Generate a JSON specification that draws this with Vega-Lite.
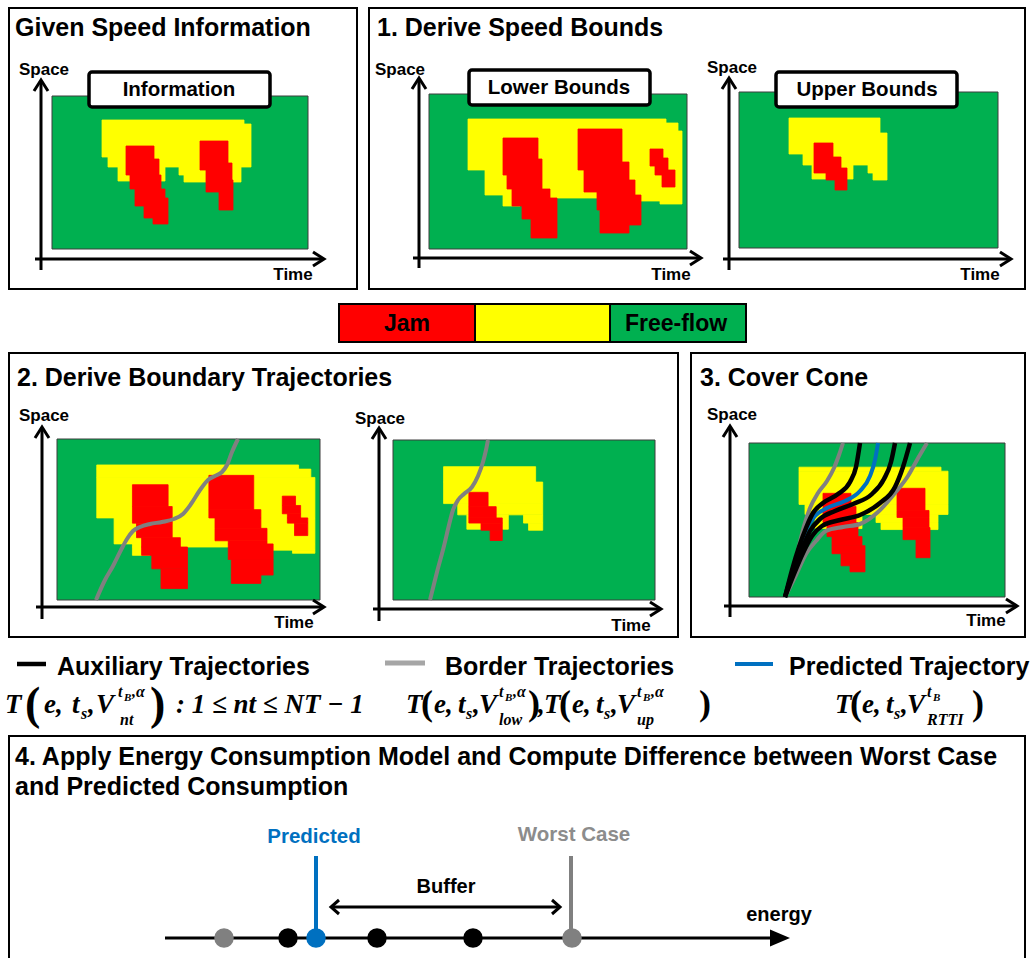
{
  "$schema": "https://vega.github.io/schema/vega-lite/v6.json",
  "width": 1034,
  "height": 958,
  "padding": 0,
  "autosize": {"type": "none"},
  "background": "white",
  "config": {"view": {"stroke": null}},
  "datasets": {
    "frames": [
      {"x": 9, "x2": 357, "y": 8, "y2": 289},
      {"x": 369, "x2": 1025, "y": 8, "y2": 289},
      {"x": 9, "x2": 678, "y": 353, "y2": 637},
      {"x": 691, "x2": 1025, "y": 353, "y2": 637},
      {"x": 9, "x2": 1025, "y": 736, "y2": 962}
    ],
    "info": [
      {"x0": 52, "x1": 308, "y0": 96, "y1": 249, "state": "free"},
      {"x0": 102, "x1": 244, "y0": 120, "y1": 124, "state": "slow"},
      {"x0": 102, "x1": 251, "y0": 124, "y1": 157, "state": "slow"},
      {"x0": 108, "x1": 251, "y0": 157, "y1": 167, "state": "slow"},
      {"x0": 118, "x1": 165, "y0": 167, "y1": 181, "state": "slow"},
      {"x0": 179, "x1": 241, "y0": 167, "y1": 175, "state": "slow"},
      {"x0": 184, "x1": 241, "y0": 175, "y1": 182, "state": "slow"},
      {"x0": 126, "x1": 154, "y0": 146, "y1": 159, "state": "jam"},
      {"x0": 126, "x1": 159, "y0": 159, "y1": 175, "state": "jam"},
      {"x0": 130, "x1": 161, "y0": 175, "y1": 189, "state": "jam"},
      {"x0": 135, "x1": 165, "y0": 189, "y1": 198, "state": "jam"},
      {"x0": 135, "x1": 168, "y0": 198, "y1": 206, "state": "jam"},
      {"x0": 144, "x1": 168, "y0": 206, "y1": 218, "state": "jam"},
      {"x0": 153, "x1": 168, "y0": 218, "y1": 224, "state": "jam"},
      {"x0": 200, "x1": 228, "y0": 141, "y1": 163, "state": "jam"},
      {"x0": 200, "x1": 232, "y0": 163, "y1": 170, "state": "jam"},
      {"x0": 206, "x1": 232, "y0": 170, "y1": 180, "state": "jam"},
      {"x0": 206, "x1": 233, "y0": 180, "y1": 192, "state": "jam"},
      {"x0": 219, "x1": 233, "y0": 192, "y1": 210, "state": "jam"}
    ],
    "lower": [
      {"x0": 429, "x1": 687, "y0": 94, "y1": 249, "state": "free"},
      {"x0": 468, "x1": 666, "y0": 119, "y1": 123, "state": "slow"},
      {"x0": 468, "x1": 678, "y0": 123, "y1": 131, "state": "slow"},
      {"x0": 468, "x1": 682, "y0": 131, "y1": 170, "state": "slow"},
      {"x0": 485, "x1": 682, "y0": 170, "y1": 195, "state": "slow"},
      {"x0": 503, "x1": 597, "y0": 195, "y1": 198, "state": "slow"},
      {"x0": 503, "x1": 520, "y0": 198, "y1": 206, "state": "slow"},
      {"x0": 641, "x1": 682, "y0": 195, "y1": 201, "state": "slow"},
      {"x0": 660, "x1": 682, "y0": 201, "y1": 204, "state": "slow"},
      {"x0": 503, "x1": 538, "y0": 138, "y1": 159, "state": "jam"},
      {"x0": 503, "x1": 542, "y0": 159, "y1": 175, "state": "jam"},
      {"x0": 507, "x1": 542, "y0": 175, "y1": 189, "state": "jam"},
      {"x0": 512, "x1": 550, "y0": 189, "y1": 198, "state": "jam"},
      {"x0": 512, "x1": 557, "y0": 198, "y1": 206, "state": "jam"},
      {"x0": 522, "x1": 557, "y0": 206, "y1": 219, "state": "jam"},
      {"x0": 531, "x1": 557, "y0": 219, "y1": 238, "state": "jam"},
      {"x0": 578, "x1": 622, "y0": 129, "y1": 162, "state": "jam"},
      {"x0": 578, "x1": 629, "y0": 162, "y1": 170, "state": "jam"},
      {"x0": 584, "x1": 629, "y0": 170, "y1": 180, "state": "jam"},
      {"x0": 584, "x1": 635, "y0": 180, "y1": 192, "state": "jam"},
      {"x0": 597, "x1": 635, "y0": 192, "y1": 195, "state": "jam"},
      {"x0": 597, "x1": 641, "y0": 195, "y1": 210, "state": "jam"},
      {"x0": 600, "x1": 641, "y0": 210, "y1": 225, "state": "jam"},
      {"x0": 600, "x1": 629, "y0": 225, "y1": 233, "state": "jam"},
      {"x0": 650, "x1": 663, "y0": 149, "y1": 158, "state": "jam"},
      {"x0": 650, "x1": 668, "y0": 158, "y1": 166, "state": "jam"},
      {"x0": 655, "x1": 668, "y0": 166, "y1": 170, "state": "jam"},
      {"x0": 655, "x1": 675, "y0": 170, "y1": 175, "state": "jam"},
      {"x0": 662, "x1": 675, "y0": 175, "y1": 187, "state": "jam"}
    ],
    "upper": [
      {"x0": 739, "x1": 998, "y0": 92, "y1": 248, "state": "free"},
      {"x0": 789, "x1": 880, "y0": 118, "y1": 133, "state": "slow"},
      {"x0": 789, "x1": 887, "y0": 133, "y1": 154, "state": "slow"},
      {"x0": 803, "x1": 887, "y0": 154, "y1": 165, "state": "slow"},
      {"x0": 812, "x1": 853, "y0": 165, "y1": 179, "state": "slow"},
      {"x0": 868, "x1": 887, "y0": 165, "y1": 173, "state": "slow"},
      {"x0": 873, "x1": 887, "y0": 173, "y1": 180, "state": "slow"},
      {"x0": 814, "x1": 833, "y0": 143, "y1": 157, "state": "jam"},
      {"x0": 814, "x1": 841, "y0": 157, "y1": 168, "state": "jam"},
      {"x0": 814, "x1": 847, "y0": 168, "y1": 173, "state": "jam"},
      {"x0": 826, "x1": 847, "y0": 173, "y1": 180, "state": "jam"},
      {"x0": 835, "x1": 847, "y0": 180, "y1": 190, "state": "jam"}
    ],
    "bar": [
      {"x": 339, "x2": 475, "y": 304, "y2": 342, "state": "jam"},
      {"x": 475, "x2": 610, "y": 304, "y2": 342, "state": "slow"},
      {"x": 610, "x2": 746, "y": 304, "y2": 342, "state": "free"}
    ],
    "tags": [
      {"x": 89, "x2": 270, "y": 72, "y2": 107},
      {"x": 469, "x2": 650, "y": 70, "y2": 105},
      {"x": 776, "x2": 957, "y": 72, "y2": 107}
    ],
    "paths": [
      {"id": "A-v", "i": 0, "x": 41, "y": 270, "kind": "axis"}, {"id": "A-v", "i": 1, "x": 41, "y": 81, "kind": "axis"},
      {"id": "A-vh", "i": 0, "x": 34, "y": 91, "kind": "axis"}, {"id": "A-vh", "i": 1, "x": 41, "y": 80, "kind": "axis"}, {"id": "A-vh", "i": 2, "x": 48, "y": 91, "kind": "axis"},
      {"id": "A-h", "i": 0, "x": 35, "y": 259, "kind": "axis"}, {"id": "A-h", "i": 1, "x": 323, "y": 259, "kind": "axis"},
      {"id": "A-hh", "i": 0, "x": 313, "y": 252, "kind": "axis"}, {"id": "A-hh", "i": 1, "x": 324, "y": 259, "kind": "axis"}, {"id": "A-hh", "i": 2, "x": 313, "y": 266, "kind": "axis"},
      {"id": "B-v", "i": 0, "x": 419, "y": 268, "kind": "axis"}, {"id": "B-v", "i": 1, "x": 419, "y": 79, "kind": "axis"},
      {"id": "B-vh", "i": 0, "x": 412, "y": 89, "kind": "axis"}, {"id": "B-vh", "i": 1, "x": 419, "y": 78, "kind": "axis"}, {"id": "B-vh", "i": 2, "x": 426, "y": 89, "kind": "axis"},
      {"id": "B-h", "i": 0, "x": 413, "y": 258, "kind": "axis"}, {"id": "B-h", "i": 1, "x": 700, "y": 258, "kind": "axis"},
      {"id": "B-hh", "i": 0, "x": 690, "y": 251, "kind": "axis"}, {"id": "B-hh", "i": 1, "x": 701, "y": 258, "kind": "axis"}, {"id": "B-hh", "i": 2, "x": 690, "y": 265, "kind": "axis"},
      {"id": "U-v", "i": 0, "x": 729, "y": 270, "kind": "axis"}, {"id": "U-v", "i": 1, "x": 729, "y": 79, "kind": "axis"},
      {"id": "U-vh", "i": 0, "x": 722, "y": 89, "kind": "axis"}, {"id": "U-vh", "i": 1, "x": 729, "y": 78, "kind": "axis"}, {"id": "U-vh", "i": 2, "x": 736, "y": 89, "kind": "axis"},
      {"id": "U-h", "i": 0, "x": 723, "y": 259, "kind": "axis"}, {"id": "U-h", "i": 1, "x": 1010, "y": 259, "kind": "axis"},
      {"id": "U-hh", "i": 0, "x": 1000, "y": 252, "kind": "axis"}, {"id": "U-hh", "i": 1, "x": 1011, "y": 259, "kind": "axis"}, {"id": "U-hh", "i": 2, "x": 1000, "y": 266, "kind": "axis"},
      {"id": "CL-v", "i": 0, "x": 42, "y": 619, "kind": "axis"}, {"id": "CL-v", "i": 1, "x": 42, "y": 428, "kind": "axis"},
      {"id": "CL-vh", "i": 0, "x": 35, "y": 438, "kind": "axis"}, {"id": "CL-vh", "i": 1, "x": 42, "y": 427, "kind": "axis"}, {"id": "CL-vh", "i": 2, "x": 49, "y": 438, "kind": "axis"},
      {"id": "CL-h", "i": 0, "x": 36, "y": 607, "kind": "axis"}, {"id": "CL-h", "i": 1, "x": 323, "y": 607, "kind": "axis"},
      {"id": "CL-hh", "i": 0, "x": 313, "y": 600, "kind": "axis"}, {"id": "CL-hh", "i": 1, "x": 324, "y": 607, "kind": "axis"}, {"id": "CL-hh", "i": 2, "x": 313, "y": 614, "kind": "axis"},
      {"id": "CR-v", "i": 0, "x": 379, "y": 621, "kind": "axis"}, {"id": "CR-v", "i": 1, "x": 379, "y": 429, "kind": "axis"},
      {"id": "CR-vh", "i": 0, "x": 372, "y": 439, "kind": "axis"}, {"id": "CR-vh", "i": 1, "x": 379, "y": 428, "kind": "axis"}, {"id": "CR-vh", "i": 2, "x": 386, "y": 439, "kind": "axis"},
      {"id": "CR-h", "i": 0, "x": 373, "y": 609, "kind": "axis"}, {"id": "CR-h", "i": 1, "x": 660, "y": 609, "kind": "axis"},
      {"id": "CR-hh", "i": 0, "x": 650, "y": 602, "kind": "axis"}, {"id": "CR-hh", "i": 1, "x": 661, "y": 609, "kind": "axis"}, {"id": "CR-hh", "i": 2, "x": 650, "y": 616, "kind": "axis"},
      {"id": "D-v", "i": 0, "x": 730, "y": 617, "kind": "axis"}, {"id": "D-v", "i": 1, "x": 730, "y": 427, "kind": "axis"},
      {"id": "D-vh", "i": 0, "x": 723, "y": 437, "kind": "axis"}, {"id": "D-vh", "i": 1, "x": 730, "y": 426, "kind": "axis"}, {"id": "D-vh", "i": 2, "x": 737, "y": 437, "kind": "axis"},
      {"id": "D-h", "i": 0, "x": 724, "y": 606, "kind": "axis"}, {"id": "D-h", "i": 1, "x": 1016, "y": 606, "kind": "axis"},
      {"id": "D-hh", "i": 0, "x": 1006, "y": 599, "kind": "axis"}, {"id": "D-hh", "i": 1, "x": 1017, "y": 606, "kind": "axis"}, {"id": "D-hh", "i": 2, "x": 1006, "y": 613, "kind": "axis"},
      {"id": "E-axis", "i": 0, "x": 165, "y": 938, "kind": "axis"}, {"id": "E-axis", "i": 1, "x": 772, "y": 938, "kind": "axis"},
      {"id": "E-buf", "i": 0, "x": 332, "y": 907, "kind": "axis"}, {"id": "E-buf", "i": 1, "x": 559, "y": 907, "kind": "axis"},
      {"id": "E-bufl", "i": 0, "x": 339, "y": 900, "kind": "axis"}, {"id": "E-bufl", "i": 1, "x": 331, "y": 907, "kind": "axis"}, {"id": "E-bufl", "i": 2, "x": 339, "y": 914, "kind": "axis"},
      {"id": "E-bufr", "i": 0, "x": 552, "y": 900, "kind": "axis"}, {"id": "E-bufr", "i": 1, "x": 560, "y": 907, "kind": "axis"}, {"id": "E-bufr", "i": 2, "x": 552, "y": 914, "kind": "axis"},
      {"id": "E-pred", "i": 0, "x": 316, "y": 856, "kind": "blue"}, {"id": "E-pred", "i": 1, "x": 316, "y": 934, "kind": "blue"},
      {"id": "E-worst", "i": 0, "x": 571, "y": 856, "kind": "gray"}, {"id": "E-worst", "i": 1, "x": 571, "y": 934, "kind": "gray"},
      {"id": "K-aux", "i": 0, "x": 17, "y": 664, "kind": "black"}, {"id": "K-aux", "i": 1, "x": 46, "y": 664, "kind": "black"},
      {"id": "K-border", "i": 0, "x": 385, "y": 663, "kind": "keygray"}, {"id": "K-border", "i": 1, "x": 425, "y": 663, "kind": "keygray"},
      {"id": "K-pred", "i": 0, "x": 735, "y": 664, "kind": "blue"}, {"id": "K-pred", "i": 1, "x": 773, "y": 664, "kind": "blue"},
      {"id": "CL-t", "i": 0, "x": 96, "y": 600, "kind": "gray"}, {"id": "CL-t", "i": 1, "x": 105, "y": 580, "kind": "gray"}, {"id": "CL-t", "i": 2, "x": 113, "y": 566, "kind": "gray"}, {"id": "CL-t", "i": 3, "x": 121, "y": 550, "kind": "gray"}, {"id": "CL-t", "i": 4, "x": 127, "y": 539, "kind": "gray"}, {"id": "CL-t", "i": 5, "x": 133, "y": 531, "kind": "gray"}, {"id": "CL-t", "i": 6, "x": 140, "y": 527, "kind": "gray"}, {"id": "CL-t", "i": 7, "x": 150, "y": 524, "kind": "gray"}, {"id": "CL-t", "i": 8, "x": 162, "y": 522, "kind": "gray"}, {"id": "CL-t", "i": 9, "x": 174, "y": 519, "kind": "gray"}, {"id": "CL-t", "i": 10, "x": 183, "y": 514, "kind": "gray"}, {"id": "CL-t", "i": 11, "x": 191, "y": 504, "kind": "gray"}, {"id": "CL-t", "i": 12, "x": 200, "y": 490, "kind": "gray"}, {"id": "CL-t", "i": 13, "x": 208, "y": 480, "kind": "gray"}, {"id": "CL-t", "i": 14, "x": 215, "y": 476, "kind": "gray"}, {"id": "CL-t", "i": 15, "x": 222, "y": 472, "kind": "gray"}, {"id": "CL-t", "i": 16, "x": 227, "y": 465, "kind": "gray"}, {"id": "CL-t", "i": 17, "x": 232, "y": 452, "kind": "gray"}, {"id": "CL-t", "i": 18, "x": 238, "y": 439, "kind": "gray"},
      {"id": "CR-t", "i": 0, "x": 430, "y": 600, "kind": "gray"}, {"id": "CR-t", "i": 1, "x": 437, "y": 572, "kind": "gray"}, {"id": "CR-t", "i": 2, "x": 444, "y": 546, "kind": "gray"}, {"id": "CR-t", "i": 3, "x": 449, "y": 525, "kind": "gray"}, {"id": "CR-t", "i": 4, "x": 453, "y": 510, "kind": "gray"}, {"id": "CR-t", "i": 5, "x": 458, "y": 500, "kind": "gray"}, {"id": "CR-t", "i": 6, "x": 464, "y": 494, "kind": "gray"}, {"id": "CR-t", "i": 7, "x": 472, "y": 487, "kind": "gray"}, {"id": "CR-t", "i": 8, "x": 478, "y": 476, "kind": "gray"}, {"id": "CR-t", "i": 9, "x": 483, "y": 462, "kind": "gray"}, {"id": "CR-t", "i": 10, "x": 486, "y": 450, "kind": "gray"}, {"id": "CR-t", "i": 11, "x": 488, "y": 440, "kind": "gray"},
      {"id": "D-g1", "i": 0, "x": 785, "y": 597, "kind": "gray"}, {"id": "D-g1", "i": 1, "x": 792, "y": 572, "kind": "gray"}, {"id": "D-g1", "i": 2, "x": 798, "y": 550, "kind": "gray"}, {"id": "D-g1", "i": 3, "x": 804, "y": 526, "kind": "gray"}, {"id": "D-g1", "i": 4, "x": 810, "y": 508, "kind": "gray"}, {"id": "D-g1", "i": 5, "x": 818, "y": 493, "kind": "gray"}, {"id": "D-g1", "i": 6, "x": 827, "y": 481, "kind": "gray"}, {"id": "D-g1", "i": 7, "x": 834, "y": 468, "kind": "gray"}, {"id": "D-g1", "i": 8, "x": 839, "y": 455, "kind": "gray"}, {"id": "D-g1", "i": 9, "x": 843, "y": 443, "kind": "gray"},
      {"id": "D-g2", "i": 0, "x": 785, "y": 597, "kind": "gray"}, {"id": "D-g2", "i": 1, "x": 796, "y": 575, "kind": "gray"}, {"id": "D-g2", "i": 2, "x": 806, "y": 554, "kind": "gray"}, {"id": "D-g2", "i": 3, "x": 816, "y": 541, "kind": "gray"}, {"id": "D-g2", "i": 4, "x": 826, "y": 531, "kind": "gray"}, {"id": "D-g2", "i": 5, "x": 843, "y": 527, "kind": "gray"}, {"id": "D-g2", "i": 6, "x": 860, "y": 524, "kind": "gray"}, {"id": "D-g2", "i": 7, "x": 878, "y": 512, "kind": "gray"}, {"id": "D-g2", "i": 8, "x": 895, "y": 493, "kind": "gray"}, {"id": "D-g2", "i": 9, "x": 908, "y": 476, "kind": "gray"}, {"id": "D-g2", "i": 10, "x": 917, "y": 460, "kind": "gray"}, {"id": "D-g2", "i": 11, "x": 927, "y": 443, "kind": "gray"},
      {"id": "D-b", "i": 0, "x": 785, "y": 597, "kind": "blue"}, {"id": "D-b", "i": 1, "x": 793, "y": 568, "kind": "blue"}, {"id": "D-b", "i": 2, "x": 800, "y": 546, "kind": "blue"}, {"id": "D-b", "i": 3, "x": 807, "y": 528, "kind": "blue"}, {"id": "D-b", "i": 4, "x": 815, "y": 516, "kind": "blue"}, {"id": "D-b", "i": 5, "x": 827, "y": 508, "kind": "blue"}, {"id": "D-b", "i": 6, "x": 845, "y": 501, "kind": "blue"}, {"id": "D-b", "i": 7, "x": 860, "y": 491, "kind": "blue"}, {"id": "D-b", "i": 8, "x": 870, "y": 476, "kind": "blue"}, {"id": "D-b", "i": 9, "x": 875, "y": 460, "kind": "blue"}, {"id": "D-b", "i": 10, "x": 878, "y": 443, "kind": "blue"},
      {"id": "D-k1", "i": 0, "x": 785, "y": 597, "kind": "black"}, {"id": "D-k1", "i": 1, "x": 792, "y": 570, "kind": "black"}, {"id": "D-k1", "i": 2, "x": 799, "y": 547, "kind": "black"}, {"id": "D-k1", "i": 3, "x": 806, "y": 528, "kind": "black"}, {"id": "D-k1", "i": 4, "x": 813, "y": 513, "kind": "black"}, {"id": "D-k1", "i": 5, "x": 823, "y": 503, "kind": "black"}, {"id": "D-k1", "i": 6, "x": 838, "y": 494, "kind": "black"}, {"id": "D-k1", "i": 7, "x": 850, "y": 482, "kind": "black"}, {"id": "D-k1", "i": 8, "x": 856, "y": 467, "kind": "black"}, {"id": "D-k1", "i": 9, "x": 860, "y": 443, "kind": "black"},
      {"id": "D-k2", "i": 0, "x": 785, "y": 597, "kind": "black"}, {"id": "D-k2", "i": 1, "x": 793, "y": 571, "kind": "black"}, {"id": "D-k2", "i": 2, "x": 802, "y": 549, "kind": "black"}, {"id": "D-k2", "i": 3, "x": 810, "y": 531, "kind": "black"}, {"id": "D-k2", "i": 4, "x": 820, "y": 519, "kind": "black"}, {"id": "D-k2", "i": 5, "x": 835, "y": 511, "kind": "black"}, {"id": "D-k2", "i": 6, "x": 853, "y": 504, "kind": "black"}, {"id": "D-k2", "i": 7, "x": 872, "y": 494, "kind": "black"}, {"id": "D-k2", "i": 8, "x": 884, "y": 479, "kind": "black"}, {"id": "D-k2", "i": 9, "x": 891, "y": 462, "kind": "black"}, {"id": "D-k2", "i": 10, "x": 895, "y": 443, "kind": "black"},
      {"id": "D-k3", "i": 0, "x": 785, "y": 597, "kind": "black"}, {"id": "D-k3", "i": 1, "x": 794, "y": 574, "kind": "black"}, {"id": "D-k3", "i": 2, "x": 803, "y": 553, "kind": "black"}, {"id": "D-k3", "i": 3, "x": 812, "y": 536, "kind": "black"}, {"id": "D-k3", "i": 4, "x": 822, "y": 526, "kind": "black"}, {"id": "D-k3", "i": 5, "x": 840, "y": 520, "kind": "black"}, {"id": "D-k3", "i": 6, "x": 860, "y": 515, "kind": "black"}, {"id": "D-k3", "i": 7, "x": 880, "y": 503, "kind": "black"}, {"id": "D-k3", "i": 8, "x": 895, "y": 487, "kind": "black"}, {"id": "D-k3", "i": 9, "x": 903, "y": 467, "kind": "black"}, {"id": "D-k3", "i": 10, "x": 910, "y": 443, "kind": "black"}
    ],
    "dots": [
      {"x": 224, "y": 938, "kind": "border"},
      {"x": 288, "y": 938, "kind": "auxiliary"},
      {"x": 377, "y": 938, "kind": "auxiliary"},
      {"x": 473, "y": 938, "kind": "auxiliary"},
      {"x": 572, "y": 938, "kind": "border"},
      {"x": 316, "y": 938, "kind": "predicted"}
    ],
    "heads": [{"x": 780, "y": 938}],
    "labels": [
      {"x": 15, "y": 36, "text": "Given Speed Information", "role": "title"},
      {"x": 377, "y": 36, "text": "1. Derive Speed Bounds", "role": "title"},
      {"x": 17, "y": 386, "text": "2. Derive Boundary Trajectories", "role": "title"},
      {"x": 700, "y": 386, "text": "3. Cover Cone", "role": "title"},
      {"x": 15, "y": 765, "text": "4. Apply Energy Consumption Model and Compute Difference between Worst Case", "role": "title"},
      {"x": 15, "y": 795, "text": "and Predicted Consumption", "role": "title"},
      {"x": 57, "y": 675, "text": "Auxiliary Trajectories", "role": "title"},
      {"x": 445, "y": 675, "text": "Border Trajectories", "role": "title"},
      {"x": 789, "y": 675, "text": "Predicted Trajectory", "role": "title"},
      {"x": 44, "y": 70, "text": "Space", "role": "axis"},
      {"x": 400, "y": 70, "text": "Space", "role": "axis"},
      {"x": 732, "y": 68, "text": "Space", "role": "axis"},
      {"x": 44, "y": 416, "text": "Space", "role": "axis"},
      {"x": 380, "y": 419, "text": "Space", "role": "axis"},
      {"x": 732, "y": 415, "text": "Space", "role": "axis"},
      {"x": 293, "y": 275, "text": "Time", "role": "axis"},
      {"x": 671, "y": 275, "text": "Time", "role": "axis"},
      {"x": 980, "y": 275, "text": "Time", "role": "axis"},
      {"x": 294, "y": 623, "text": "Time", "role": "axis"},
      {"x": 631, "y": 626, "text": "Time", "role": "axis"},
      {"x": 986, "y": 621, "text": "Time", "role": "axis"},
      {"x": 179, "y": 90, "text": "Information", "role": "tag"},
      {"x": 559, "y": 88, "text": "Lower Bounds", "role": "tag"},
      {"x": 867, "y": 90, "text": "Upper Bounds", "role": "tag"},
      {"x": 407, "y": 324, "text": "Jam", "role": "bar"},
      {"x": 676, "y": 324, "text": "Free-flow", "role": "bar"},
      {"x": 446, "y": 887, "text": "Buffer", "role": "note"},
      {"x": 779, "y": 915, "text": "energy", "role": "note"},
      {"x": 314, "y": 837, "text": "Predicted", "role": "pred"},
      {"x": 574, "y": 835, "text": "Worst Case", "role": "worst"}
    ],
    "math": [
      {"x": 5, "y": 713, "text": "T", "role": "m"},
      {"x": 25, "y": 719, "text": "(", "role": "big"},
      {"x": 44, "y": 713, "text": "e,", "role": "m"},
      {"x": 72, "y": 713, "text": "t", "role": "m"},
      {"x": 81, "y": 719, "text": "s", "role": "sup"},
      {"x": 88, "y": 713, "text": ",", "role": "m"},
      {"x": 96, "y": 713, "text": "V", "role": "m"},
      {"x": 118, "y": 697, "text": "t", "role": "sup"},
      {"x": 124, "y": 701, "text": "B", "role": "tiny"},
      {"x": 132, "y": 697, "text": ",α", "role": "sup"},
      {"x": 120, "y": 725, "text": "nt", "role": "sup"},
      {"x": 150, "y": 719, "text": ")", "role": "big"},
      {"x": 176, "y": 713, "text": ": 1 ≤ nt ≤ NT − 1", "role": "m"},
      {"x": 406, "y": 713, "text": "T", "role": "m"},
      {"x": 421, "y": 715, "text": "(", "role": "mid"},
      {"x": 434, "y": 713, "text": "e,", "role": "m"},
      {"x": 458, "y": 713, "text": "t", "role": "m"},
      {"x": 466, "y": 719, "text": "s", "role": "sup"},
      {"x": 473, "y": 713, "text": ",", "role": "m"},
      {"x": 479, "y": 713, "text": "V", "role": "m"},
      {"x": 499, "y": 697, "text": "t", "role": "sup"},
      {"x": 505, "y": 701, "text": "B", "role": "tiny"},
      {"x": 513, "y": 697, "text": ",α", "role": "sup"},
      {"x": 499, "y": 725, "text": "low", "role": "sup"},
      {"x": 528, "y": 715, "text": ")", "role": "mid"},
      {"x": 538, "y": 713, "text": ",", "role": "m"},
      {"x": 544, "y": 713, "text": "T", "role": "m"},
      {"x": 559, "y": 715, "text": "(", "role": "mid"},
      {"x": 572, "y": 713, "text": "e,", "role": "m"},
      {"x": 596, "y": 713, "text": "t", "role": "m"},
      {"x": 604, "y": 719, "text": "s", "role": "sup"},
      {"x": 611, "y": 713, "text": ",", "role": "m"},
      {"x": 617, "y": 713, "text": "V", "role": "m"},
      {"x": 637, "y": 697, "text": "t", "role": "sup"},
      {"x": 643, "y": 701, "text": "B", "role": "tiny"},
      {"x": 651, "y": 697, "text": ",α", "role": "sup"},
      {"x": 637, "y": 725, "text": "up", "role": "sup"},
      {"x": 699, "y": 715, "text": ")", "role": "mid"},
      {"x": 835, "y": 713, "text": "T", "role": "m"},
      {"x": 850, "y": 715, "text": "(", "role": "mid"},
      {"x": 862, "y": 713, "text": "e,", "role": "m"},
      {"x": 886, "y": 713, "text": "t", "role": "m"},
      {"x": 894, "y": 719, "text": "s", "role": "sup"},
      {"x": 901, "y": 713, "text": ",", "role": "m"},
      {"x": 907, "y": 713, "text": "V", "role": "m"},
      {"x": 927, "y": 697, "text": "t", "role": "sup"},
      {"x": 933, "y": 701, "text": "B", "role": "tiny"},
      {"x": 927, "y": 725, "text": "RTTI", "role": "sup"},
      {"x": 972, "y": 715, "text": ")", "role": "mid"}
    ]
  },
  "resolve": {"scale": {"x": "independent", "y": "independent"}},
  "layer": [
    {
      "data": {"name": "frames"},
      "mark": {"type": "rect", "fill": "white", "stroke": "black", "strokeWidth": 2},
      "encoding": {
        "x": {"field": "x", "type": "quantitative", "axis": null, "scale": {"domain": [0, 1034], "range": [0, 1034], "nice": false, "zero": false}},
        "x2": {"field": "x2"},
        "y": {"field": "y", "type": "quantitative", "axis": null, "scale": {"domain": [0, 958], "range": [0, 958], "nice": false, "zero": false}},
        "y2": {"field": "y2"}
      }
    },
    {
      "data": {"name": "info"},
      "mark": {"type": "rect"},
      "encoding": {
        "x": {"field": "x0", "type": "quantitative", "axis": null, "scale": {"domain": [52, 308], "range": [52, 308], "nice": false, "zero": false}},
        "x2": {"field": "x1"},
        "y": {"field": "y0", "type": "quantitative", "axis": null, "scale": {"domain": [96, 249], "range": [96, 249], "nice": false, "zero": false}},
        "y2": {"field": "y1"},
        "color": {"field": "state", "type": "nominal", "legend": null, "scale": {"domain": ["jam", "slow", "free"], "range": ["#FF0000", "#FFFF00", "#00B050"]}},
        "stroke": {"field": "state", "type": "nominal", "legend": null, "scale": {"domain": ["jam", "slow", "free"], "range": ["#FF0000", "#FFFF00", "#3c3c3c"]}},
        "strokeWidth": {"condition": {"test": "datum.state === 'free'", "value": 1}, "value": 0.8}
      }
    },
    {
      "data": {"name": "lower"},
      "mark": {"type": "rect"},
      "encoding": {
        "x": {"field": "x0", "type": "quantitative", "axis": null, "scale": {"domain": [429, 687], "range": [429, 687], "nice": false, "zero": false}},
        "x2": {"field": "x1"},
        "y": {"field": "y0", "type": "quantitative", "axis": null, "scale": {"domain": [94, 249], "range": [94, 249], "nice": false, "zero": false}},
        "y2": {"field": "y1"},
        "color": {"field": "state", "type": "nominal", "legend": null, "scale": {"domain": ["jam", "slow", "free"], "range": ["#FF0000", "#FFFF00", "#00B050"]}},
        "stroke": {"field": "state", "type": "nominal", "legend": null, "scale": {"domain": ["jam", "slow", "free"], "range": ["#FF0000", "#FFFF00", "#3c3c3c"]}},
        "strokeWidth": {"condition": {"test": "datum.state === 'free'", "value": 1}, "value": 0.8}
      }
    },
    {
      "data": {"name": "upper"},
      "mark": {"type": "rect"},
      "encoding": {
        "x": {"field": "x0", "type": "quantitative", "axis": null, "scale": {"domain": [739, 998], "range": [739, 998], "nice": false, "zero": false}},
        "x2": {"field": "x1"},
        "y": {"field": "y0", "type": "quantitative", "axis": null, "scale": {"domain": [92, 248], "range": [92, 248], "nice": false, "zero": false}},
        "y2": {"field": "y1"},
        "color": {"field": "state", "type": "nominal", "legend": null, "scale": {"domain": ["jam", "slow", "free"], "range": ["#FF0000", "#FFFF00", "#00B050"]}},
        "stroke": {"field": "state", "type": "nominal", "legend": null, "scale": {"domain": ["jam", "slow", "free"], "range": ["#FF0000", "#FFFF00", "#3c3c3c"]}},
        "strokeWidth": {"condition": {"test": "datum.state === 'free'", "value": 1}, "value": 0.8}
      }
    },
    {
      "data": {"name": "lower"},
      "mark": {"type": "rect"},
      "encoding": {
        "x": {"field": "x0", "type": "quantitative", "axis": null, "scale": {"domain": [429, 687], "range": [57, 320], "nice": false, "zero": false}},
        "x2": {"field": "x1"},
        "y": {"field": "y0", "type": "quantitative", "axis": null, "scale": {"domain": [94, 249], "range": [439, 600], "nice": false, "zero": false}},
        "y2": {"field": "y1"},
        "color": {"field": "state", "type": "nominal", "legend": null, "scale": {"domain": ["jam", "slow", "free"], "range": ["#FF0000", "#FFFF00", "#00B050"]}},
        "stroke": {"field": "state", "type": "nominal", "legend": null, "scale": {"domain": ["jam", "slow", "free"], "range": ["#FF0000", "#FFFF00", "#3c3c3c"]}},
        "strokeWidth": {"condition": {"test": "datum.state === 'free'", "value": 1}, "value": 0.8}
      }
    },
    {
      "data": {"name": "upper"},
      "mark": {"type": "rect"},
      "encoding": {
        "x": {"field": "x0", "type": "quantitative", "axis": null, "scale": {"domain": [739, 998], "range": [393, 655], "nice": false, "zero": false}},
        "x2": {"field": "x1"},
        "y": {"field": "y0", "type": "quantitative", "axis": null, "scale": {"domain": [92, 248], "range": [440, 600], "nice": false, "zero": false}},
        "y2": {"field": "y1"},
        "color": {"field": "state", "type": "nominal", "legend": null, "scale": {"domain": ["jam", "slow", "free"], "range": ["#FF0000", "#FFFF00", "#00B050"]}},
        "stroke": {"field": "state", "type": "nominal", "legend": null, "scale": {"domain": ["jam", "slow", "free"], "range": ["#FF0000", "#FFFF00", "#3c3c3c"]}},
        "strokeWidth": {"condition": {"test": "datum.state === 'free'", "value": 1}, "value": 0.8}
      }
    },
    {
      "data": {"name": "info"},
      "mark": {"type": "rect"},
      "encoding": {
        "x": {"field": "x0", "type": "quantitative", "axis": null, "scale": {"domain": [52, 308], "range": [749, 1005], "nice": false, "zero": false}},
        "x2": {"field": "x1"},
        "y": {"field": "y0", "type": "quantitative", "axis": null, "scale": {"domain": [96, 249], "range": [443, 597], "nice": false, "zero": false}},
        "y2": {"field": "y1"},
        "color": {"field": "state", "type": "nominal", "legend": null, "scale": {"domain": ["jam", "slow", "free"], "range": ["#FF0000", "#FFFF00", "#00B050"]}},
        "stroke": {"field": "state", "type": "nominal", "legend": null, "scale": {"domain": ["jam", "slow", "free"], "range": ["#FF0000", "#FFFF00", "#3c3c3c"]}},
        "strokeWidth": {"condition": {"test": "datum.state === 'free'", "value": 1}, "value": 0.8}
      }
    },
    {
      "encoding": {
        "x": {"field": "x", "type": "quantitative", "axis": null, "scale": {"domain": [0, 1034], "range": [0, 1034], "nice": false, "zero": false}},
        "y": {"field": "y", "type": "quantitative", "axis": null, "scale": {"domain": [0, 958], "range": [0, 958], "nice": false, "zero": false}}
      },
      "layer": [
        {
          "data": {"name": "bar"},
          "mark": {"type": "rect", "stroke": "black", "strokeWidth": 2},
          "encoding": {
            "x2": {"field": "x2"},
            "y2": {"field": "y2"},
            "color": {"field": "state", "type": "nominal", "legend": null, "scale": {"domain": ["jam", "slow", "free"], "range": ["#FF0000", "#FFFF00", "#00B050"]}}
          }
        },
        {
          "data": {"name": "tags"},
          "mark": {"type": "rect", "fill": "white", "stroke": "black", "strokeWidth": 3.5, "cornerRadius": 3},
          "encoding": {"x2": {"field": "x2"}, "y2": {"field": "y2"}}
        },
        {
          "data": {"name": "paths"},
          "transform": [{"filter": "datum.kind === 'gray'"}],
          "mark": {"type": "line", "color": "#808080", "strokeWidth": 4, "interpolate": "monotone"},
          "encoding": {"detail": {"field": "id", "type": "nominal"}, "order": {"field": "i", "type": "quantitative"}}
        },
        {
          "data": {"name": "paths"},
          "transform": [{"filter": "datum.kind === 'keygray'"}],
          "mark": {"type": "line", "color": "#A6A6A6", "strokeWidth": 5},
          "encoding": {"detail": {"field": "id", "type": "nominal"}, "order": {"field": "i", "type": "quantitative"}}
        },
        {
          "data": {"name": "paths"},
          "transform": [{"filter": "datum.kind === 'blue'"}],
          "mark": {"type": "line", "color": "#0070C0", "strokeWidth": 4, "interpolate": "monotone"},
          "encoding": {"detail": {"field": "id", "type": "nominal"}, "order": {"field": "i", "type": "quantitative"}}
        },
        {
          "data": {"name": "paths"},
          "transform": [{"filter": "datum.kind === 'black'"}],
          "mark": {"type": "line", "color": "black", "strokeWidth": 4.5, "interpolate": "monotone"},
          "encoding": {"detail": {"field": "id", "type": "nominal"}, "order": {"field": "i", "type": "quantitative"}}
        },
        {
          "data": {"name": "paths"},
          "transform": [{"filter": "datum.kind === 'axis'"}],
          "mark": {"type": "line", "color": "black", "strokeWidth": 3, "strokeJoin": "miter"},
          "encoding": {"detail": {"field": "id", "type": "nominal"}, "order": {"field": "i", "type": "quantitative"}}
        },
        {
          "data": {"name": "heads"},
          "mark": {"type": "point", "shape": "M-1,-0.85L1,0L-1,0.85Z", "filled": true, "color": "black", "opacity": 1, "size": 400}
        },
        {
          "data": {"name": "dots"},
          "transform": [{"filter": "datum.kind === 'border'"}],
          "mark": {"type": "point", "shape": "circle", "filled": true, "color": "#808080", "opacity": 1, "size": 380}
        },
        {
          "data": {"name": "dots"},
          "transform": [{"filter": "datum.kind === 'auxiliary'"}],
          "mark": {"type": "point", "shape": "circle", "filled": true, "color": "black", "opacity": 1, "size": 380}
        },
        {
          "data": {"name": "dots"},
          "transform": [{"filter": "datum.kind === 'predicted'"}],
          "mark": {"type": "point", "shape": "circle", "filled": true, "color": "#0070C0", "opacity": 1, "size": 380}
        },
        {
          "data": {"name": "labels"},
          "transform": [{"filter": "datum.role === 'title'"}],
          "mark": {"type": "text", "align": "left", "baseline": "alphabetic", "font": "Liberation Sans", "fontWeight": "bold", "fontSize": 25, "color": "black"},
          "encoding": {"text": {"field": "text"}}
        },
        {
          "data": {"name": "labels"},
          "transform": [{"filter": "datum.role === 'axis'"}],
          "mark": {"type": "text", "align": "center", "baseline": "middle", "font": "Liberation Sans", "fontWeight": "bold", "fontSize": 17, "color": "black"},
          "encoding": {"text": {"field": "text"}}
        },
        {
          "data": {"name": "labels"},
          "transform": [{"filter": "datum.role === 'tag'"}],
          "mark": {"type": "text", "align": "center", "baseline": "middle", "font": "Liberation Sans", "fontWeight": "bold", "fontSize": 20.5, "color": "black"},
          "encoding": {"text": {"field": "text"}}
        },
        {
          "data": {"name": "labels"},
          "transform": [{"filter": "datum.role === 'bar'"}],
          "mark": {"type": "text", "align": "center", "baseline": "middle", "font": "Liberation Sans", "fontWeight": "bold", "fontSize": 23, "color": "black"},
          "encoding": {"text": {"field": "text"}}
        },
        {
          "data": {"name": "labels"},
          "transform": [{"filter": "datum.role === 'note'"}],
          "mark": {"type": "text", "align": "center", "baseline": "middle", "font": "Liberation Sans", "fontWeight": "bold", "fontSize": 20, "color": "black"},
          "encoding": {"text": {"field": "text"}}
        },
        {
          "data": {"name": "labels"},
          "transform": [{"filter": "datum.role === 'pred'"}],
          "mark": {"type": "text", "align": "center", "baseline": "middle", "font": "Liberation Sans", "fontWeight": "bold", "fontSize": 20.5, "color": "#0070C0"},
          "encoding": {"text": {"field": "text"}}
        },
        {
          "data": {"name": "labels"},
          "transform": [{"filter": "datum.role === 'worst'"}],
          "mark": {"type": "text", "align": "center", "baseline": "middle", "font": "Liberation Sans", "fontWeight": "bold", "fontSize": 20.5, "color": "#8C8C8C"},
          "encoding": {"text": {"field": "text"}}
        },
        {
          "data": {"name": "math"},
          "transform": [{"filter": "datum.role === 'm'"}],
          "mark": {"type": "text", "align": "left", "baseline": "alphabetic", "font": "Liberation Serif", "fontWeight": "bold", "fontStyle": "italic", "fontSize": 27, "color": "black"},
          "encoding": {"text": {"field": "text"}}
        },
        {
          "data": {"name": "math"},
          "transform": [{"filter": "datum.role === 'big'"}],
          "mark": {"type": "text", "align": "left", "baseline": "alphabetic", "font": "Liberation Serif", "fontWeight": "bold", "fontSize": 46, "color": "black"},
          "encoding": {"text": {"field": "text"}}
        },
        {
          "data": {"name": "math"},
          "transform": [{"filter": "datum.role === 'mid'"}],
          "mark": {"type": "text", "align": "left", "baseline": "alphabetic", "font": "Liberation Serif", "fontWeight": "bold", "fontSize": 36, "color": "black"},
          "encoding": {"text": {"field": "text"}}
        },
        {
          "data": {"name": "math"},
          "transform": [{"filter": "datum.role === 'sup'"}],
          "mark": {"type": "text", "align": "left", "baseline": "alphabetic", "font": "Liberation Serif", "fontWeight": "bold", "fontStyle": "italic", "fontSize": 16, "color": "black"},
          "encoding": {"text": {"field": "text"}}
        },
        {
          "data": {"name": "math"},
          "transform": [{"filter": "datum.role === 'tiny'"}],
          "mark": {"type": "text", "align": "left", "baseline": "alphabetic", "font": "Liberation Serif", "fontWeight": "bold", "fontStyle": "italic", "fontSize": 11, "color": "black"},
          "encoding": {"text": {"field": "text"}}
        }
      ]
    }
  ]
}
